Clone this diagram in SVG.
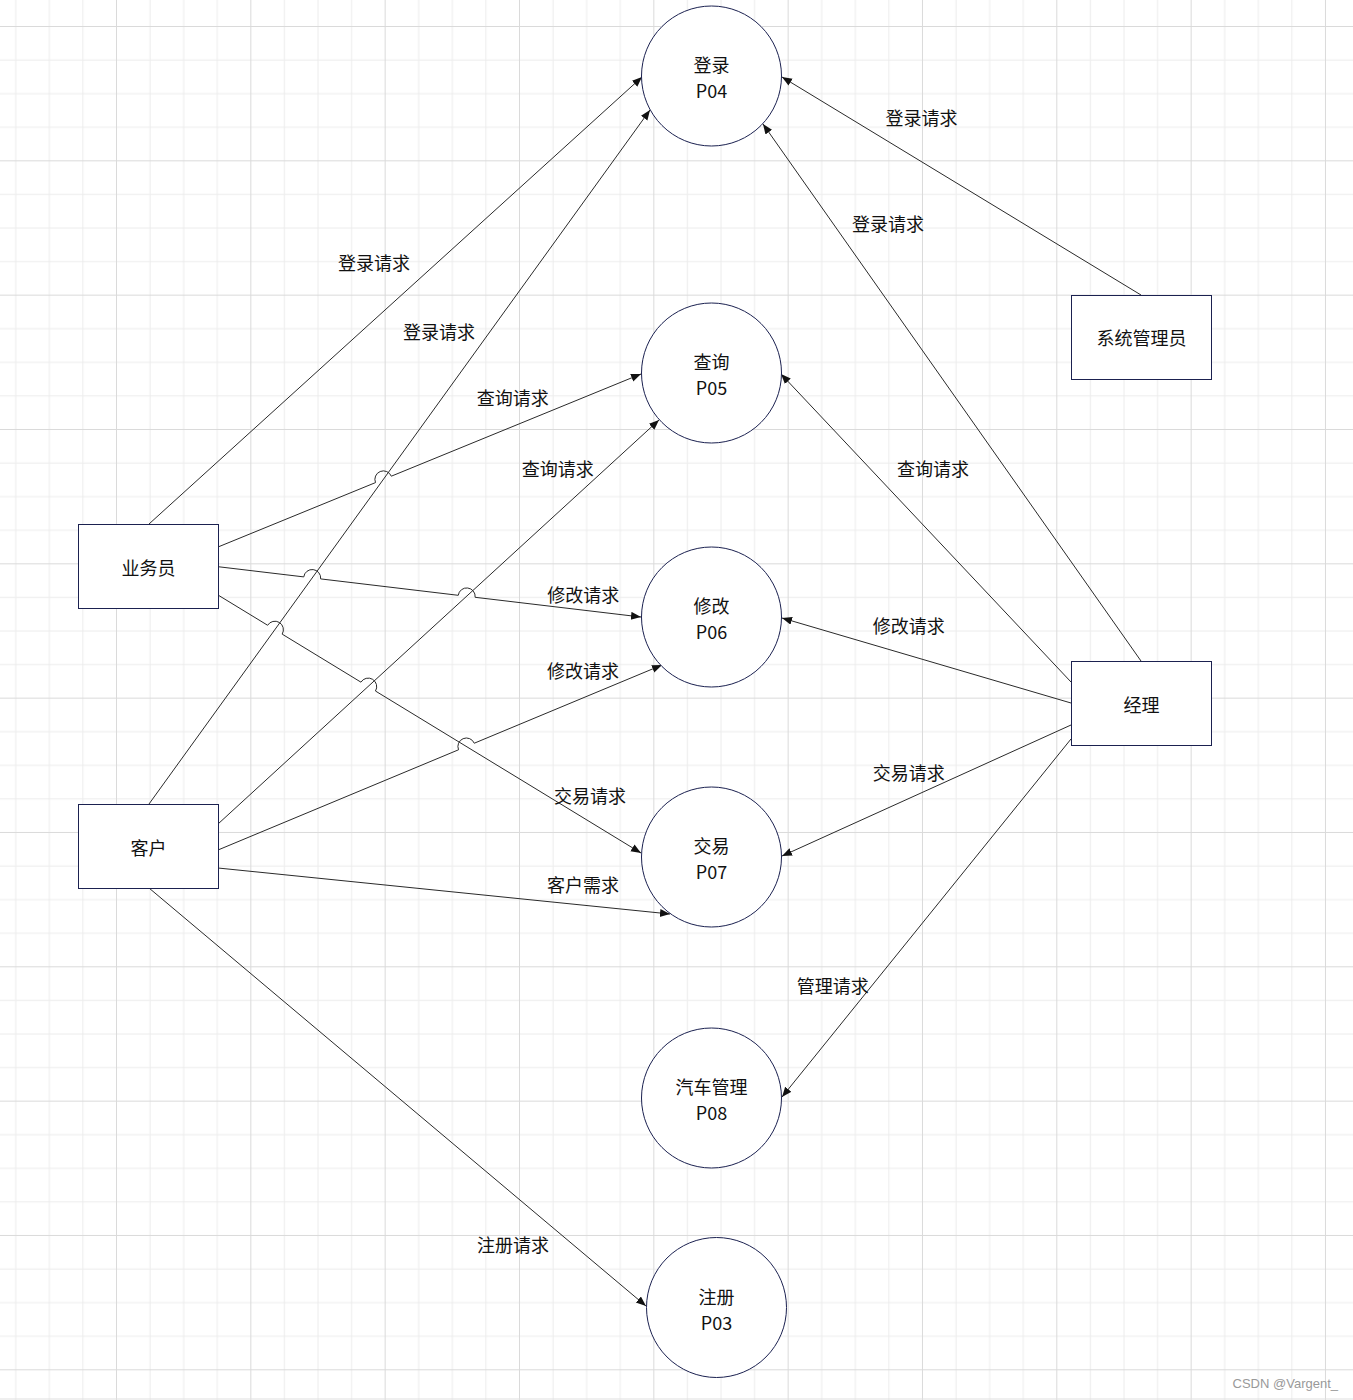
<svg xmlns="http://www.w3.org/2000/svg" width="1353" height="1400" viewBox="0 0 1353 1400">
<defs>
<pattern id="grid" patternUnits="userSpaceOnUse" x="116" y="26" width="134.33" height="134.33">
<rect x="33.58" y="0" width="1" height="134.33" fill="#ececec"/>
<rect x="67.17" y="0" width="1" height="134.33" fill="#ececec"/>
<rect x="100.75" y="0" width="1" height="134.33" fill="#ececec"/>
<rect x="0" y="33.58" width="134.33" height="1" fill="#ececec"/>
<rect x="0" y="67.17" width="134.33" height="1" fill="#ececec"/>
<rect x="0" y="100.75" width="134.33" height="1" fill="#ececec"/>
<rect x="0" y="0" width="1" height="134.33" fill="#dadada"/>
<rect x="0" y="0" width="134.33" height="1" fill="#dadada"/>
</pattern>
<marker id="arr" markerUnits="userSpaceOnUse" markerWidth="12" markerHeight="10" refX="10" refY="4" orient="auto">
<path d="M0,0 L10,4 L0,8 z" fill="#111"/>
</marker>
<style>
.shape{fill:#fff;stroke:#1b2150;stroke-width:1}
.t{font-family:"Noto Sans CJK SC","Noto Sans",sans-serif;font-size:18px;fill:#111;text-anchor:middle}
.edge{fill:none;stroke:#2a2a2a;stroke-width:1;marker-end:url(#arr)}
.lbl{font-family:"Noto Sans CJK SC","Noto Sans",sans-serif;font-size:18px;fill:#111;text-anchor:middle}
.wm{font-family:"Liberation Sans",Arial,sans-serif;font-size:13px;fill:#999;text-anchor:end}
</style>
</defs>
<rect x="0" y="0" width="1353" height="1400" fill="#fff"/>
<rect x="0" y="0" width="1353" height="1400" fill="url(#grid)"/>
<rect x="0" y="1398.5" width="1353" height="1" fill="#e0e0e0"/>

<g id="connectors">
<path class="edge" d="M149,524 L642,77"/>
<path class="edge" d="M149,804 L650,110"/>
<path class="edge" d="M1141,295 L782,77"/>
<path class="edge" d="M1141,661 L763,124"/>
<path class="edge" d="M218,824 L659,420"/>
<path class="edge" d="M1071,682 L781,374"/>
<path class="edge" d="M1071,703 L782,618"/>
<path class="edge" d="M218,868 L670,914"/>
<path class="edge" d="M1071,725 L782,856"/>
<path class="edge" d="M1071,739 L782,1097"/>
<path class="edge" d="M149,888 L646,1306"/>
<path class="edge" d="M218,547 L375.5,482.6 A8.5,8.5 0 0 1 391.3,476.2 L641,374"/>
<path class="edge" d="M218,566.7 L303.76,576.9 A8.5,8.5 0 0 1 320.64,578.9 L458.26,595.3 A8.5,8.5 0 0 1 475.14,597.3 L641,617"/>
<path class="edge" d="M218,595 L267.64,625.27 A8.5,8.5 0 0 1 282.16,634.13 L360.94,682.17 A8.5,8.5 0 0 1 375.46,691.03 L641,853"/>
<path class="edge" d="M218,850 L458.55,749.77 A8.5,8.5 0 0 1 474.25,743.23 L662,665"/>
</g>

<g id="edge-labels">
<text class="lbl" x="374" y="269.5">登录请求</text>
<text class="lbl" x="439" y="338.5">登录请求</text>
<text class="lbl" x="921.5" y="125">登录请求</text>
<text class="lbl" x="888" y="231">登录请求</text>
<text class="lbl" x="512.7" y="405">查询请求</text>
<text class="lbl" x="557.7" y="476">查询请求</text>
<text class="lbl" x="933" y="476">查询请求</text>
<text class="lbl" x="583.3" y="602">修改请求</text>
<text class="lbl" x="583" y="678">修改请求</text>
<text class="lbl" x="908.7" y="632.5">修改请求</text>
<text class="lbl" x="590" y="803">交易请求</text>
<text class="lbl" x="583" y="892">客户需求</text>
<text class="lbl" x="908.7" y="780">交易请求</text>
<text class="lbl" x="832.7" y="993">管理请求</text>
<text class="lbl" x="513" y="1252">注册请求</text>
</g>

<g id="p04">
<circle class="shape" cx="711.5" cy="76" r="70"/>
<text class="t" x="711.5" y="72">登录</text>
<text class="t" x="711.5" y="98">P04</text>
</g>
<g id="p05">
<circle class="shape" cx="711.5" cy="373" r="70"/>
<text class="t" x="711.5" y="369">查询</text>
<text class="t" x="711.5" y="395">P05</text>
</g>
<g id="p06">
<circle class="shape" cx="711.5" cy="617" r="70"/>
<text class="t" x="711.5" y="613">修改</text>
<text class="t" x="711.5" y="639">P06</text>
</g>
<g id="p07">
<circle class="shape" cx="711.5" cy="857" r="70"/>
<text class="t" x="711.5" y="853">交易</text>
<text class="t" x="711.5" y="879">P07</text>
</g>
<g id="p08">
<circle class="shape" cx="711.5" cy="1098" r="70"/>
<text class="t" x="711.5" y="1094">汽车管理</text>
<text class="t" x="711.5" y="1120">P08</text>
</g>
<g id="p03">
<circle class="shape" cx="716.5" cy="1307.5" r="70"/>
<text class="t" x="716.5" y="1303.5">注册</text>
<text class="t" x="716.5" y="1329.5">P03</text>
</g>

<g id="yewuyuan">
<rect class="shape" x="78.5" y="524.5" width="140" height="84"/>
<text class="t" x="148.5" y="575">业务员</text>
</g>
<g id="kehu">
<rect class="shape" x="78.5" y="804.5" width="140" height="84"/>
<text class="t" x="148.5" y="855">客户</text>
</g>
<g id="xitongguanliyuan">
<rect class="shape" x="1071.5" y="295.5" width="140" height="84"/>
<text class="t" x="1141.5" y="345">系统管理员</text>
</g>
<g id="jingli">
<rect class="shape" x="1071.5" y="661.5" width="140" height="84"/>
<text class="t" x="1141.5" y="712">经理</text>
</g>

<text class="wm" x="1338" y="1388">CSDN @Vargent_</text>
</svg>
